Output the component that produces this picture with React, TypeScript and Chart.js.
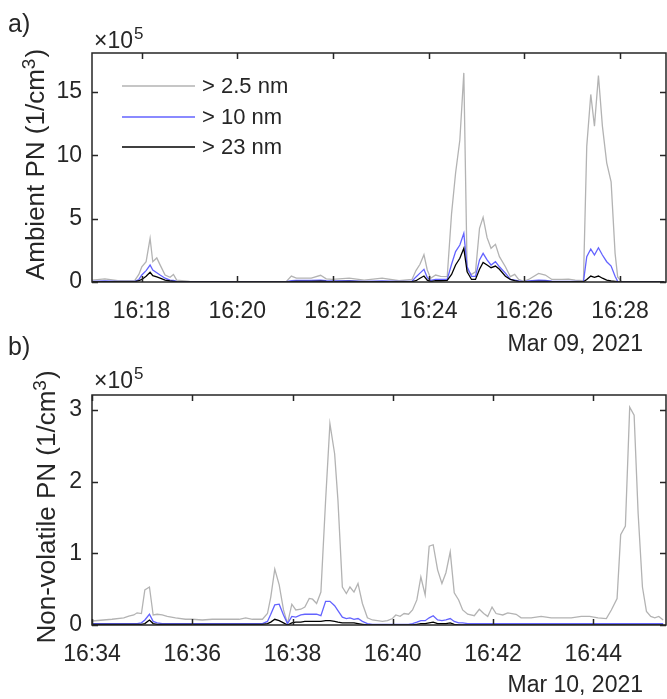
import React, { useEffect, useRef } from 'react';
import { Chart, registerables } from 'chart.js';

Chart.register(...registerables);

const FONT = '"Liberation Sans", Arial, Helvetica, sans-serif';
const TEXT = '#262626';

const seriesLabels = ['> 2.5 nm', '> 10 nm', '> 23 nm'];
const seriesColors = ['#b3b3b3', '#6363ff', '#000000'];

// ---------- Panel a: minutes after 16:00 (Mar 09, 2021); values in 1e5 1/cm3 ----------
const aTime = [16.965, 17.235, 17.506, 17.860, 17.944, 18.006, 18.096, 18.179, 18.235, 18.319, 18.388, 18.492, 18.596, 18.667, 18.735, 19.006, 19.423, 20.048, 21.027, 21.131, 21.235, 21.548, 21.742, 21.860, 21.985, 22.340, 22.652, 23.027, 23.381, 23.652, 23.735, 23.819, 23.902, 23.971, 24.042, 24.146, 24.250, 24.388, 24.479, 24.563, 24.652, 24.735, 24.804, 24.896, 24.979, 25.063, 25.138, 25.221, 25.304, 25.396, 25.479, 25.604, 25.708, 25.798, 25.881, 25.985, 26.090, 26.298, 26.438, 26.575, 26.783, 26.923, 27.063, 27.235, 27.304, 27.388, 27.465, 27.548, 27.631, 27.721, 27.813, 27.896, 27.950, 28.033, 28.381, 28.917];
const aGt2p5 = [0.15, 0.25, 0.10, 0.12, 0.6, 1.2, 1.6, 3.45, 1.6, 1.9, 1.35, 0.55, 0.37, 0.6, 0.15, 0.05, 0.03, 0.03, 0.05, 0.47, 0.3, 0.3, 0.53, 0.25, 0.2, 0.3, 0.15, 0.3, 0.1, 0.2, 0.9, 1.4, 2.15, 0.95, 0.3, 0.55, 0.45, 0.42, 5.4, 8.6, 11.2, 16.5, 0.95, 0.6, 0.8, 4.24, 5.1, 3.5, 2.66, 2.97, 2.0, 1.2, 0.42, 0.6, 0.2, 0.05, 0.2, 0.68, 0.55, 0.2, 0.2, 0.22, 0.15, 0.1, 10.7, 14.8, 12.3, 16.3, 12.3, 9.4, 7.9, 2.26, 0.4, 0.02, 0.01, 0.01];
const aGt10 = [0.05, 0.08, 0.05, 0.05, 0.2, 0.55, 0.9, 1.34, 0.95, 0.73, 0.55, 0.3, 0.15, 0.12, 0.05, 0.03, 0.02, 0.02, 0.03, 0.1, 0.12, 0.12, 0.15, 0.1, 0.08, 0.1, 0.05, 0.08, 0.04, 0.06, 0.4, 0.7, 1.0, 0.35, 0.12, 0.2, 0.2, 0.2, 1.4, 2.4, 2.92, 3.84, 1.2, 0.45, 0.45, 1.74, 2.26, 1.74, 1.34, 1.6, 1.2, 0.7, 0.2, 0.15, 0.08, 0.03, 0.08, 0.15, 0.12, 0.06, 0.05, 0.05, 0.04, 0.03, 2.0, 2.6, 2.13, 2.7, 2.13, 1.6, 1.26, 0.45, 0.05, 0.02, 0.01, 0.01];
const aGt23 = [0.02, 0.03, 0.02, 0.02, 0.1, 0.2, 0.45, 0.77, 0.5, 0.4, 0.3, 0.15, 0.08, 0.05, 0.02, 0.01, 0.01, 0.01, 0.01, 0.03, 0.05, 0.05, 0.06, 0.04, 0.03, 0.04, 0.02, 0.03, 0.02, 0.02, 0.1, 0.3, 0.47, 0.15, 0.03, 0.1, 0.1, 0.12, 0.6, 1.34, 1.87, 2.66, 0.8, 0.2, 0.2, 1.0, 1.55, 1.34, 1.13, 1.26, 1.0, 0.45, 0.2, 0.1, 0.05, 0.02, 0.03, 0.05, 0.04, 0.02, 0.02, 0.02, 0.02, 0.02, 0.2, 0.47, 0.37, 0.47, 0.3, 0.15, 0.08, 0.05, 0.02, 0.01, 0.0, 0.0];
const aXTicks = [18, 20, 22, 24, 26, 28];
const aXTickLabels = ['16:18', '16:20', '16:22', '16:24', '16:26', '16:28'];
const aYTicks = [0, 5, 10, 15];
const aYTickLabels = ['0', '5', '10', '15'];

// ---------- Panel b: minutes after 16:00 (Mar 10, 2021); values in 1e5 1/cm3 ----------
const bTime = [34.000, 34.400, 34.634, 34.734, 34.834, 34.900, 34.986, 35.054, 35.146, 35.220, 35.300, 35.400, 35.500, 35.666, 35.866, 36.000, 36.200, 36.400, 36.666, 36.934, 37.066, 37.200, 37.400, 37.500, 37.566, 37.646, 37.734, 37.820, 37.900, 37.986, 38.066, 38.166, 38.246, 38.334, 38.400, 38.480, 38.566, 38.660, 38.746, 38.840, 38.906, 38.994, 39.074, 39.146, 39.226, 39.306, 39.394, 39.494, 39.594, 39.694, 39.794, 39.894, 39.994, 40.060, 40.146, 40.226, 40.314, 40.394, 40.480, 40.560, 40.646, 40.726, 40.806, 40.894, 40.980, 41.060, 41.146, 41.226, 41.314, 41.394, 41.494, 41.626, 41.726, 41.814, 41.894, 41.980, 42.060, 42.194, 42.294, 42.460, 42.560, 42.760, 42.960, 43.160, 43.360, 43.560, 43.760, 43.926, 44.094, 44.260, 44.360, 44.474, 44.546, 44.640, 44.726, 44.814, 44.894, 44.980, 45.060, 45.146, 45.226, 45.306, 45.394];
const bGt2p5 = [0.056, 0.08, 0.10, 0.125, 0.14, 0.17, 0.16, 0.49, 0.53, 0.14, 0.15, 0.14, 0.12, 0.10, 0.08, 0.08, 0.07, 0.08, 0.08, 0.08, 0.10, 0.08, 0.08, 0.16, 0.39, 0.78, 0.56, 0.21, 0.02, 0.29, 0.21, 0.22, 0.25, 0.37, 0.36, 0.30, 0.46, 1.74, 2.81, 2.39, 1.74, 0.53, 0.44, 0.53, 0.46, 0.58, 0.30, 0.10, 0.07, 0.06, 0.05, 0.06, 0.09, 0.14, 0.12, 0.16, 0.15, 0.21, 0.35, 0.67, 0.42, 1.10, 1.12, 0.77, 0.58, 0.73, 1.02, 0.45, 0.35, 0.21, 0.15, 0.13, 0.22, 0.16, 0.12, 0.25, 0.16, 0.14, 0.17, 0.15, 0.10, 0.10, 0.12, 0.10, 0.10, 0.10, 0.12, 0.12, 0.10, 0.09, 0.21, 0.37, 1.26, 1.38, 3.04, 2.93, 1.56, 0.53, 0.19, 0.12, 0.10, 0.12, 0.07];
const bGt10 = [0.02, 0.02, 0.02, 0.02, 0.02, 0.02, 0.03, 0.07, 0.15, 0.05, 0.03, 0.02, 0.02, 0.02, 0.02, 0.02, 0.02, 0.02, 0.02, 0.02, 0.02, 0.02, 0.02, 0.05, 0.15, 0.28, 0.29, 0.14, 0.02, 0.12, 0.11, 0.14, 0.15, 0.15, 0.15, 0.15, 0.13, 0.33, 0.33, 0.27, 0.2, 0.11, 0.09, 0.1, 0.08, 0.09, 0.05, 0.02, 0.01, 0.01, 0.01, 0.01, 0.01, 0.01, 0.01, 0.01, 0.01, 0.02, 0.04, 0.06, 0.06, 0.1, 0.13, 0.07, 0.06, 0.07, 0.09, 0.05, 0.03, 0.03, 0.02, 0.02, 0.02, 0.02, 0.02, 0.02, 0.02, 0.02, 0.02, 0.02, 0.02, 0.02, 0.02, 0.02, 0.02, 0.02, 0.02, 0.02, 0.02, 0.02, 0.02, 0.02, 0.02, 0.02, 0.02, 0.02, 0.02, 0.02, 0.02, 0.02, 0.02, 0.02, 0.02];
const bGt23 = [0.01, 0.01, 0.01, 0.01, 0.01, 0.01, 0.01, 0.02, 0.07, 0.02, 0.01, 0.01, 0.01, 0.01, 0.01, 0.01, 0.01, 0.01, 0.01, 0.01, 0.01, 0.01, 0.01, 0.02, 0.04, 0.08, 0.06, 0.03, 0.0, 0.03, 0.04, 0.04, 0.05, 0.05, 0.05, 0.05, 0.05, 0.06, 0.06, 0.05, 0.04, 0.03, 0.03, 0.03, 0.03, 0.02, 0.01, 0.0, 0.0, 0.0, 0.0, 0.0, 0.0, 0.0, 0.0, 0.0, 0.0, 0.0, 0.01, 0.02, 0.02, 0.03, 0.04, 0.02, 0.02, 0.02, 0.03, 0.01, 0.0, 0.0, 0.0, 0.0, 0.0, 0.0, 0.0, 0.0, 0.0, 0.0, 0.0, 0.0, 0.0, 0.0, 0.0, 0.0, 0.0, 0.0, 0.0, 0.0, 0.0, 0.0, 0.0, 0.0, 0.0, 0.0, 0.0, 0.0, 0.0, 0.0, 0.0, 0.0, 0.0, 0.0, 0.0];
const bXTicks = [34, 36, 38, 40, 42, 44];
const bXTickLabels = ['16:34', '16:36', '16:38', '16:40', '16:42', '16:44'];
const bYTicks = [0, 1, 2, 3];
const bYTickLabels = ['0', '1', '2', '3'];

type Panel = {
  time: number[];
  series: number[][];
  xMin: number;
  xMax: number;
  yMax: number;
  xTicks: number[];
  xTickLabels: string[];
  yTicks: number[];
  yTickLabels: string[];
  yTitle: string;
  tag: string;
  date: string;
  legend: boolean;
  titleX: number;
  padTop: number;
  padBottom: number;
  tagY: number;
  dateY: number;
  expDy: number;
};

const extrasPlugin = {
  id: 'extras',
  afterDatasetsDraw(chart: any, _args: any, opts: any) {
    const p: Panel = opts.panel;
    if (!p) return;
    const { ctx, chartArea } = chart;
    const { left, top, right, bottom } = chartArea;
    const xs = chart.scales.x;
    const ys = chart.scales.y;
    ctx.save();
    ctx.strokeStyle = TEXT;
    ctx.lineWidth = 1.5;
    ctx.strokeRect(left, top, right - left, bottom - top);
    ctx.beginPath();
    const tl = 6;
    p.xTicks.forEach((v) => {
      const px = Math.round(xs.getPixelForValue(v)) + 0.5;
      ctx.moveTo(px, bottom);
      ctx.lineTo(px, bottom - tl);
      ctx.moveTo(px, top);
      ctx.lineTo(px, top + tl);
    });
    p.yTicks.forEach((v) => {
      const py = Math.round(ys.getPixelForValue(v)) + 0.5;
      ctx.moveTo(left, py);
      ctx.lineTo(left + tl, py);
      ctx.moveTo(right, py);
      ctx.lineTo(right - tl, py);
    });
    ctx.stroke();

    ctx.fillStyle = TEXT;
    ctx.textBaseline = 'alphabetic';
    ctx.textAlign = 'left';
    // exponent label
    ctx.font = `23px ${FONT}`;
    const base = '\u00d710';
    ctx.fillText(base, 94, top + p.expDy);
    const w = ctx.measureText(base).width;
    ctx.font = `17px ${FONT}`;
    ctx.fillText('5', 94 + w + 1, top + p.expDy - 9);

    // y-axis title with superscript, rotated
    {
      const mainFont = `26px ${FONT}`;
      const supFont = `19px ${FONT}`;
      ctx.font = mainFont;
      const w1 = ctx.measureText(p.yTitle).width;
      const w3 = ctx.measureText(')').width;
      ctx.font = supFont;
      const w2 = ctx.measureText('3').width;
      const total = w1 + w2 + w3 + 1;
      const cy = (top + bottom) / 2 - 3;
      ctx.save();
      ctx.translate(p.titleX, cy);
      ctx.rotate(-Math.PI / 2);
      ctx.textAlign = 'left';
      ctx.textBaseline = 'alphabetic';
      let x0 = -total / 2;
      ctx.font = mainFont;
      ctx.fillText(p.yTitle, x0, 0);
      x0 += w1;
      ctx.font = supFont;
      ctx.fillText('3', x0, -9);
      x0 += w2 + 1;
      ctx.font = mainFont;
      ctx.fillText(')', x0, 0);
      ctx.restore();
    }

    // panel tag
    ctx.font = `25px ${FONT}`;
    ctx.fillText(p.tag, 8, p.tagY);

    // date
    ctx.font = `23px ${FONT}`;
    ctx.textAlign = 'right';
    ctx.fillText(p.date, 643, p.dateY);

    if (p.legend) {
      const ly = [86, 117, 147];
      ctx.textAlign = 'left';
      ctx.textBaseline = 'middle';
      ctx.font = `22px ${FONT}`;
      seriesLabels.forEach((lab, i) => {
        ctx.strokeStyle = seriesColors[i];
        ctx.lineWidth = 1.5;
        ctx.beginPath();
        ctx.moveTo(122, ly[i]);
        ctx.lineTo(195, ly[i]);
        ctx.stroke();
        ctx.fillStyle = TEXT;
        ctx.fillText(lab, 202, ly[i] + 1);
      });
    }
    ctx.restore();
  },
};

function PanelChart({ panel, top, height }: { panel: Panel; top: number; height: number }) {
  const ref = useRef<HTMLCanvasElement | null>(null);
  useEffect(() => {
    if (!ref.current) return;
    const chart = new Chart(ref.current, {
      type: 'line',
      data: {
        datasets: panel.series.map((s, i) => ({
          label: seriesLabels[i],
          data: panel.time.map((t, j) => ({ x: t, y: s[j] })),
          borderColor: seriesColors[i],
          backgroundColor: seriesColors[i],
          borderWidth: 1.3,
          pointRadius: 0,
          fill: false,
          tension: 0,
          order: 3 - i,
        })),
      },
      options: {
        responsive: false,
        animation: false,
        events: [],
        layout: { padding: { top: panel.padTop, right: 1, left: 0, bottom: panel.padBottom } },
        plugins: {
          legend: { display: false },
          tooltip: { enabled: false },
          extras: { panel },
        } as any,
        scales: {
          x: {
            type: 'linear',
            min: panel.xMin,
            max: panel.xMax,
            afterBuildTicks: (s: any) => {
              s.ticks = panel.xTicks.map((v) => ({ value: v }));
            },
            afterFit: (s: any) => {
              s.height = 40;
            },
            grid: { display: false, drawTicks: false },
            border: { display: false },
            ticks: {
              padding: 16,
              color: TEXT,
              maxRotation: 0,
              autoSkip: false,
              font: { family: FONT, size: 23 },
              callback: (v: any) => panel.xTickLabels[panel.xTicks.indexOf(Number(v))],
            },
          },
          y: {
            type: 'linear',
            min: 0,
            max: panel.yMax,
            afterBuildTicks: (s: any) => {
              s.ticks = panel.yTicks.map((v) => ({ value: v }));
            },
            afterFit: (s: any) => {
              s.width = 92;
            },
            grid: { display: false, drawTicks: false },
            border: { display: false },
            ticks: {
              padding: 10,
              color: TEXT,
              font: { family: FONT, size: 23 },
              callback: (v: any) => panel.yTickLabels[panel.yTicks.indexOf(Number(v))],
            },
            title: { display: false },
          },
        },
      } as any,
      plugins: [extrasPlugin],
    });
    return () => chart.destroy();
  }, [panel]);
  return (
    <canvas
      ref={ref}
      width={667}
      height={height}
      style={{ position: 'absolute', left: 0, top, width: 667, height }}
    />
  );
}

const panelA: Panel = {
  time: aTime,
  series: [aGt2p5, aGt10, aGt23],
  xMin: 16.965,
  xMax: 28.96,
  yMax: 18.07,
  xTicks: aXTicks,
  xTickLabels: aXTickLabels,
  yTicks: aYTicks,
  yTickLabels: aYTickLabels,
  yTitle: 'Ambient PN (1/cm',
  tag: 'a)',
  date: 'Mar 09, 2021',
  legend: true,
  titleX: 44,
  padTop: 53,
  padBottom: 38,
  tagY: 32,
  dateY: 351,
  expDy: -5,
};

const panelB: Panel = {
  time: bTime,
  series: [bGt2p5, bGt10, bGt23],
  xMin: 34,
  xMax: 45.45,
  yMax: 3.21,
  xTicks: bXTicks,
  xTickLabels: bXTickLabels,
  yTicks: bYTicks,
  yTickLabels: bYTickLabels,
  yTitle: 'Non-volatile PN (1/cm',
  tag: 'b)',
  date: 'Mar 10, 2021',
  legend: false,
  titleX: 55,
  padTop: 75,
  padBottom: 34,
  tagY: 35,
  dateY: 372,
  expDy: -7,
};

export default function App() {
  return (
    <div style={{ position: 'absolute', left: 0, top: 0, width: 667, height: 699, background: '#fff' }}>
      <PanelChart panel={panelA} top={0} height={360} />
      <PanelChart panel={panelB} top={320} height={379} />
    </div>
  );
}
